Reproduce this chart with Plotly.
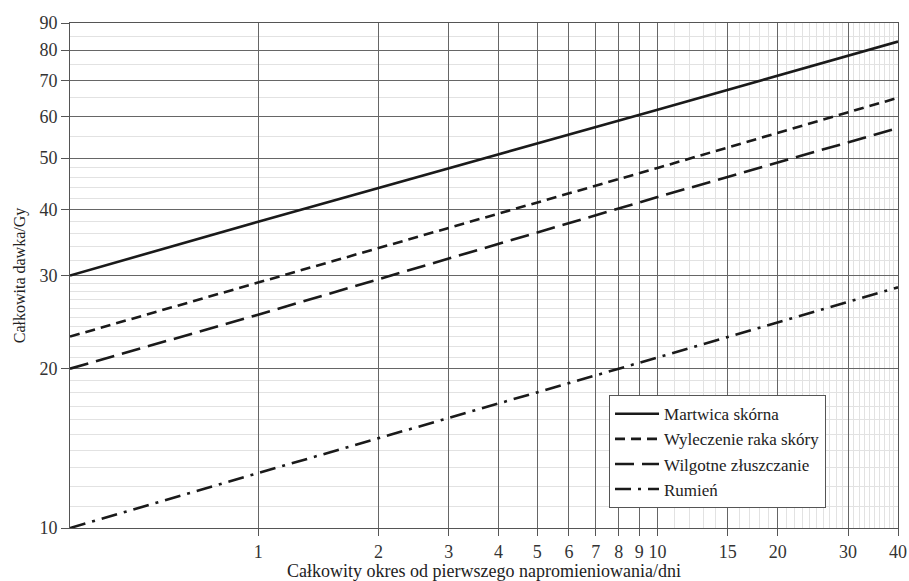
import plotly.graph_objects as go
import math

# Data
x_days = [0.338, 1, 10, 40]
martwica = [30.0, 37.9, 61.7, 83.0]
wyleczenie = [23.0, 29.1, 47.9, 65.0]
wilgotne = [20.0, 25.3, 42.2, 57.0]
rumien = [10.0, 12.7, 21.0, 28.5]

names = ["Martwica skórna", "Wyleczenie raka skóry", "Wilgotne złuszczanie", "Rumień"]
dashes = ["solid", "10px,6px", "19px,8px", "16px,7px,3px,7px"]

x_ticks = [1, 2, 3, 4, 5, 6, 7, 8, 9, 10, 15, 20, 30, 40]
x_tick_labels = ["1", "2", "3", "4", "5", "6", "7", "8", "9", "10", "15", "20", "30", "40"]
x_minor = [11, 12, 13, 14, 16, 17, 18, 19, 21, 22, 23, 24, 25, 26, 27, 28, 29,
           31, 32, 33, 34, 35, 36, 37, 38, 39]
y_ticks = [10, 20, 30, 40, 50, 60, 70, 80, 90]
y_tick_labels = ["10", "20", "30", "40", "50", "60", "70", "80", "90"]
y_minor = [11, 12, 13, 14, 15, 16, 17, 18, 19, 21, 22, 23, 24, 25, 26, 27, 28, 29,
           32, 34, 36, 38, 42, 44, 46, 48, 55, 65, 75, 85]

FONT = "Liberation Serif"

fig = go.Figure()
for nm, ys, ds in zip(names, [martwica, wyleczenie, wilgotne, rumien], dashes):
    fig.add_trace(go.Scatter(x=x_days, y=ys, mode="lines", name=nm,
                             line=dict(color="#1a1a1a", width=2.6, dash=ds)))

fig.update_layout(
    width=909, height=581,
    margin=dict(l=70, r=11, t=23, b=53, autoexpand=False),
    paper_bgcolor="white", plot_bgcolor="white",
    font=dict(family=FONT, color="#333333", size=16),
    showlegend=True,
    legend=dict(x=0.651, y=0.263, xanchor="left", yanchor="top",
                bgcolor="white", bordercolor="#555555", borderwidth=1,
                font=dict(family=FONT, size=17, color="#222222"),
                tracegroupgap=0, itemwidth=44),
)

fig.update_xaxes(
    type="log", range=[math.log10(0.338), math.log10(40)],
    tickmode="array", tickvals=x_ticks, ticktext=x_tick_labels,
    ticks="outside", ticklen=7, tickcolor="#555555",
    showgrid=True, gridcolor="#666666", gridwidth=1,
    showline=True, linecolor="#555555", linewidth=1, mirror=True,
    tickfont=dict(family=FONT, size=18, color="#333333"),
    title=dict(text="Całkowity okres od pierwszego napromieniowania/dni",
               font=dict(family=FONT, size=18, color="#222222"), standoff=0),
    minor=dict(tickmode="array", tickvals=x_minor, showgrid=True,
               gridcolor="#e2e2e2", gridwidth=1, ticks=""),
    zeroline=False, automargin=False,
)
fig.update_yaxes(
    type="log", range=[1, math.log10(90)],
    tickmode="array", tickvals=y_ticks, ticktext=y_tick_labels,
    ticks="outside", ticklen=8, tickcolor="#555555",
    showgrid=True, gridcolor="#666666", gridwidth=1,
    showline=True, linecolor="#555555", linewidth=1, mirror=True,
    tickfont=dict(family=FONT, size=18, color="#333333"),
    title=dict(text="Całkowita dawka/Gy",
               font=dict(family=FONT, size=16, color="#222222"), standoff=9),
    minor=dict(tickmode="array", tickvals=y_minor, showgrid=True,
               gridcolor="#e2e2e2", gridwidth=1, ticks=""),
    zeroline=False, automargin=False,
)

fig.write_html("out.html", config={"displayModeBar": False},
               post_script="document.body.style.margin='0';")
